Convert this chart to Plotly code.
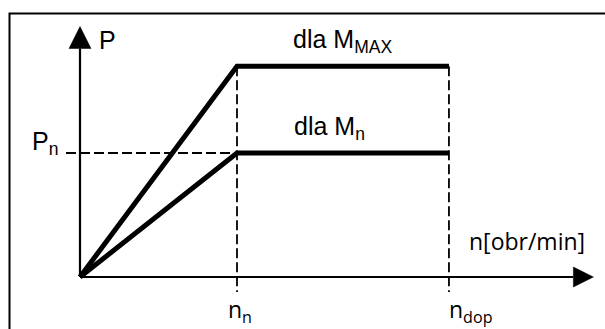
import plotly.graph_objects as go

# ---- data (normalised units) ----
n_points = [0.0, 1.0, 2.35]          # origin, n_n, n_dop
P_max_curve = [0.0, 1.70, 1.70]      # dla M_MAX
P_n_curve = [0.0, 1.0, 1.0]          # dla M_n
P_n_level = 1.0
n_n = 1.0
n_dop = 2.35
x_axis_end = 3.27
y_axis_end = 2.02
x_tick_labels = ["n<sub>n</sub>", "n<sub>dop</sub>"]
y_tick_label = "P<sub>n</sub>"

W, H = 605, 329
# axis ranges chosen so the origin sits at (80, 277) px
x_range = [-80 / 157, (W - 80) / 157]
y_range = [(277 - H) / 124, 277 / 124]
sx = 157.0   # px per x unit
sy = 124.0   # px per y unit

fig = go.Figure()

# dashed guide lines
dash = "10px,4px"
fig.add_trace(go.Scatter(x=[n_n, n_n], y=[P_max_curve[1], -15 / sy], mode="lines",
                         line=dict(color="black", width=1.8, dash=dash), hoverinfo="skip"))
fig.add_trace(go.Scatter(x=[n_dop, n_dop], y=[P_max_curve[2], -15 / sy], mode="lines",
                         line=dict(color="black", width=1.8, dash=dash), hoverinfo="skip"))
fig.add_trace(go.Scatter(x=[-14 / sx, n_n], y=[P_n_level, P_n_level], mode="lines",
                         line=dict(color="black", width=1.8, dash=dash), hoverinfo="skip"))

# axes
ah_len_y, ah_half_y = 22 / sy, 11 / sx
ah_len_x, ah_half_x = 20 / sx, 10 / sy
fig.add_trace(go.Scatter(x=[0, 0], y=[0, y_axis_end - ah_len_y], mode="lines",
                         line=dict(color="black", width=2.2), hoverinfo="skip"))
fig.add_trace(go.Scatter(x=[0, x_axis_end - ah_len_x], y=[0, 0], mode="lines",
                         line=dict(color="black", width=2.2), hoverinfo="skip"))
# arrow heads
fig.add_trace(go.Scatter(x=[-ah_half_y, ah_half_y, 0, -ah_half_y],
                         y=[y_axis_end - ah_len_y, y_axis_end - ah_len_y, y_axis_end, y_axis_end - ah_len_y],
                         mode="lines", fill="toself", fillcolor="black",
                         line=dict(color="black", width=0.5), hoverinfo="skip"))
fig.add_trace(go.Scatter(x=[x_axis_end - ah_len_x, x_axis_end - ah_len_x, x_axis_end, x_axis_end - ah_len_x],
                         y=[-ah_half_x, ah_half_x, 0, -ah_half_x],
                         mode="lines", fill="toself", fillcolor="black",
                         line=dict(color="black", width=0.5), hoverinfo="skip"))

# characteristic curves
fig.add_trace(go.Scatter(x=n_points, y=P_max_curve, mode="lines",
                         line=dict(color="black", width=5), hoverinfo="skip"))
fig.add_trace(go.Scatter(x=n_points, y=P_n_curve, mode="lines",
                         line=dict(color="black", width=5), hoverinfo="skip"))

arial = "Liberation Sans, Arial, sans-serif"
humanist = "Open Sans, Noto Sans, sans-serif"
ann = []
ann.append(dict(x=0, y=y_axis_end, text="P", xanchor="left", yanchor="middle",
                xshift=17, yshift=-13, font=dict(family=arial, size=25)))
ann.append(dict(x=0, y=P_n_level, text=y_tick_label, xanchor="right", yanchor="middle",
                xshift=-20, yshift=10, font=dict(family=arial, size=25)))
ann.append(dict(x=(n_n + n_dop) / 2, y=P_max_curve[1], text="dla M<sub>MAX</sub>",
                xanchor="center", yanchor="bottom", xshift=0, yshift=7,
                font=dict(family=arial, size=25)))
ann.append(dict(x=(n_n + n_dop) / 2, y=P_n_curve[1], text="dla M<sub>n</sub>",
                xanchor="center", yanchor="bottom", xshift=-13, yshift=7,
                font=dict(family=arial, size=25)))
ann.append(dict(x=n_n, y=0, text=x_tick_labels[0], xanchor="center", yanchor="top",
                xshift=3, yshift=-14, font=dict(family=humanist, size=23)))
ann.append(dict(x=n_dop, y=0, text=x_tick_labels[1], xanchor="center", yanchor="top",
                xshift=22, yshift=-14, font=dict(family=humanist, size=23)))
ann.append(dict(x=x_axis_end, y=0, text="n[obr/min]", xanchor="right", yanchor="bottom",
                xshift=-6, yshift=18, font=dict(family=humanist, size=23)))
for a in ann:
    a.update(showarrow=False, xref="x", yref="y", font_color="black")

fig.update_layout(
    width=W, height=H,
    margin=dict(l=0, r=0, t=0, b=0),
    paper_bgcolor="white", plot_bgcolor="white",
    showlegend=False,
    xaxis=dict(range=x_range, visible=False, fixedrange=True),
    yaxis=dict(range=y_range, visible=False, fixedrange=True),
    annotations=ann,
    shapes=[dict(type="rect", xref="paper", yref="paper",
                 x0=9.5 / W, x1=1.2, y0=-0.2, y1=1 - 13.5 / H,
                 line=dict(color="black", width=2), layer="above")],
)

fig.write_html("out.html", config={"displayModeBar": False},
               post_script="document.body.style.margin='0';document.body.style.overflow='hidden';")
